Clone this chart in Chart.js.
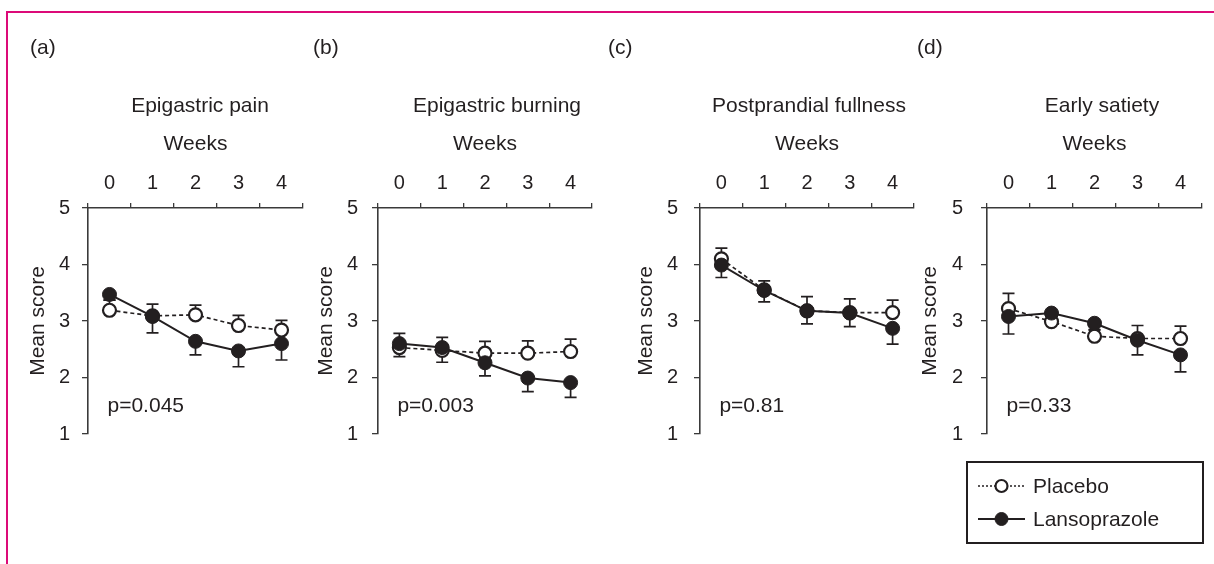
<!DOCTYPE html>
<html><head><meta charset="utf-8">
<script src="https://cdn.jsdelivr.net/npm/chart.js@4"></script>
<style>
html,body{margin:0;padding:0;background:#fff;overflow:hidden;}
#wrap{position:relative;width:1214px;height:564px;overflow:hidden;}
#frame{position:absolute;left:6px;top:11px;width:1230px;height:600px;border-top:2px solid #dc0a78;border-left:2px solid #dc0a78;}
canvas{position:absolute;left:0;top:0;}
</style></head><body>
<div id="wrap"><div id="frame"></div>
<canvas id="c0" width="1214" height="564"></canvas>
<canvas id="c1" width="1214" height="564"></canvas>
<canvas id="c2" width="1214" height="564"></canvas>
<canvas id="c3" width="1214" height="564"></canvas>
</div>
<script>
// ---- data ----
const weeks = ['0', '1', '2', '3', '4'];
const yTickValues = [1, 2, 3, 4, 5];
const seriesNames = ['Placebo', 'Lansoprazole'];
const panelLabels = ['(a)', '(b)', '(c)', '(d)'];
const panelTitles = ['Epigastric pain', 'Epigastric burning', 'Postprandial fullness', 'Early satiety'];
const pTexts = ['p=0.045', 'p=0.003', 'p=0.81', 'p=0.33'];

const placeboA = [3.19, 3.09, 3.11, 2.92, 2.84];
const placeboErrA = [0.18, 0.21, 0.17, 0.18, 0.17];
const lansoA = [3.47, 3.08, 2.64, 2.47, 2.60];
const lansoErrA = [0.10, 0.29, 0.24, 0.28, 0.29];

const placeboB = [2.53, 2.48, 2.43, 2.43, 2.46];
const placeboErrB = [0.25, 0.23, 0.21, 0.22, 0.22];
const lansoB = [2.60, 2.53, 2.26, 1.99, 1.91];
const lansoErrB = [0.23, 0.26, 0.23, 0.24, 0.26];

const placeboC = [4.10, 3.55, 3.18, 3.15, 3.15];
const placeboErrC = [0.19, 0.16, 0.25, 0.24, 0.22];
const lansoC = [3.99, 3.54, 3.18, 3.14, 2.87];
const lansoErrC = [0.22, 0.20, 0.23, 0.24, 0.28];

const placeboD = [3.22, 2.99, 2.73, 2.69, 2.69];
const placeboErrD = [0.27, 0.12, 0.12, 0.23, 0.22];
const lansoD = [3.08, 3.14, 2.96, 2.66, 2.40];
const lansoErrD = [0.31, 0.12, 0.12, 0.26, 0.30];

const placeboAll = [placeboA, placeboB, placeboC, placeboD];
const placeboErrAll = [placeboErrA, placeboErrB, placeboErrC, placeboErrD];
const lansoAll = [lansoA, lansoB, lansoC, lansoD];
const lansoErrAll = [lansoErrA, lansoErrB, lansoErrC, lansoErrD];

// ---- layout / style ----
const INK = '#231f20';
const AXIS = '#3a3a3a';
const FONT = "'Liberation Sans', Arial, Helvetica, sans-serif";
const Y_W = 72;
const PLOT_TOP = 208, PLOT_BOTTOM = 434, X_TOP = 118;
const panels = [
  {plotLeft: 88,  plotRight: 303,  labelX: 30,  titleX: 200,  yLabelGap: 18, yTitleGap: 50},
  {plotLeft: 378, plotRight: 592,  labelX: 313, titleX: 497,  yLabelGap: 20, yTitleGap: 52},
  {plotLeft: 700, plotRight: 914,  labelX: 608, titleX: 809,  yLabelGap: 22, yTitleGap: 54},
  {plotLeft: 987, plotRight: 1202, labelX: 917, titleX: 1102, yLabelGap: 24, yTitleGap: 57}
];

Chart.defaults.font.family = FONT;
Chart.defaults.color = INK;

const errorBars = {
  id: 'errorBars',
  beforeDatasetsDraw(chart) {
    const ctx = chart.ctx, ys = chart.scales.y;
    chart.data.datasets.forEach((ds, i) => {
      if (!ds.errors) return;
      const meta = chart.getDatasetMeta(i);
      ctx.save();
      ctx.strokeStyle = INK; ctx.lineWidth = 1.7; ctx.setLineDash([]);
      meta.data.forEach((pt, j) => {
        const yEnd = ys.getPixelForValue(ds.data[j] + ds.errorSign * ds.errors[j]);
        ctx.beginPath();
        ctx.moveTo(pt.x, pt.y); ctx.lineTo(pt.x, yEnd);
        ctx.moveTo(pt.x - 6, yEnd); ctx.lineTo(pt.x + 6, yEnd);
        ctx.stroke();
      });
      ctx.restore();
    });
  }
};

const panelText = {
  id: 'panelText',
  afterDraw(chart, args, opts) {
    const ctx = chart.ctx;
    ctx.save();
    ctx.fillStyle = INK;
    ctx.font = '21px ' + FONT;
    ctx.textBaseline = 'alphabetic';
    ctx.textAlign = 'left';
    ctx.fillText(opts.label, opts.labelX, 54);
    ctx.textAlign = 'center';
    ctx.fillText(opts.title, opts.titleX, 112);
    ctx.textAlign = 'left';
    ctx.textBaseline = 'middle';
    const xs = chart.scales.x, ys = chart.scales.y;
    ctx.fillText(opts.pText, xs.getPixelForValue(0) - 2, ys.getPixelForValue(1.5));
    ctx.restore();
  }
};

const boxLegend = {
  id: 'boxLegend',
  afterDraw(chart, args, opts) {
    if (!opts.display) return;
    const ctx = chart.ctx;
    ctx.save();
    ctx.strokeStyle = INK; ctx.lineWidth = 2;
    ctx.strokeRect(opts.left, opts.top, opts.width, opts.height);
    chart.data.datasets.forEach((ds, i) => {
      const y = opts.top + opts.firstRow + i * opts.rowGap;
      const x0 = opts.left + 11, x1 = x0 + 47, xm = (x0 + x1) / 2;
      ctx.strokeStyle = ds.borderColor; ctx.lineWidth = ds.borderWidth;
      ctx.setLineDash(ds.borderDash && ds.borderDash.length ? [2, 2] : []);
      ctx.beginPath(); ctx.moveTo(x0, y); ctx.lineTo(x1, y); ctx.stroke();
      ctx.setLineDash([]);
      ctx.beginPath(); ctx.arc(xm, y, ds.pointRadius - 0.5, 0, Math.PI * 2);
      ctx.fillStyle = ds.pointBackgroundColor; ctx.fill();
      ctx.lineWidth = ds.pointBorderWidth; ctx.strokeStyle = ds.pointBorderColor; ctx.stroke();
      ctx.fillStyle = INK; ctx.font = '21px ' + FONT;
      ctx.textAlign = 'left'; ctx.textBaseline = 'middle';
      ctx.fillText(ds.label, x1 + 8, y + 1);
    });
    ctx.restore();
  }
};

panels.forEach((p, k) => {
  new Chart(document.getElementById('c' + k), {
    type: 'line',
    data: {
      labels: weeks,
      datasets: [
        {
          label: seriesNames[0], data: placeboAll[k], errors: placeboErrAll[k], errorSign: 1,
          borderColor: INK, borderWidth: 1.7, borderDash: [4, 3],
          pointRadius: 6.5, pointBorderWidth: 2.2, pointBackgroundColor: '#ffffff', pointBorderColor: INK,
          order: 1, clip: false, tension: 0
        },
        {
          label: seriesNames[1], data: lansoAll[k], errors: lansoErrAll[k], errorSign: -1,
          borderColor: INK, borderWidth: 2, borderDash: [],
          pointRadius: 7, pointBorderWidth: 1, pointBackgroundColor: INK, pointBorderColor: INK,
          order: 0, clip: false, tension: 0
        }
      ]
    },
    options: {
      responsive: false,
      animation: false,
      events: [],
      layout: {padding: {left: p.plotLeft - Y_W, right: 1214 - p.plotRight, top: X_TOP, bottom: 564 - PLOT_BOTTOM}},
      scales: {
        x: {
          type: 'category', position: 'top', offset: true,
          afterFit: s => { s.height = PLOT_TOP - X_TOP; },
          grid: {offset: true, drawOnChartArea: false, drawTicks: true, tickLength: 5, color: AXIS, lineWidth: 1.3},
          border: {color: AXIS, width: 1.6},
          ticks: {font: {size: 20}, color: INK, padding: 8, maxRotation: 0},
          title: {display: true, text: 'Weeks', font: {size: 21}, color: INK, padding: {top: 14, bottom: 0}}
        },
        y: {
          type: 'linear', min: 1, max: 5,
          afterFit: s => { s.width = Y_W; },
          afterBuildTicks: s => { s.ticks = yTickValues.map(v => ({value: v})); },
          grid: {drawOnChartArea: false, drawTicks: true, tickLength: 6, color: AXIS, lineWidth: 1.3},
          border: {color: AXIS, width: 1.6},
          ticks: {font: {size: 20}, color: INK, padding: p.yLabelGap - 6},
          title: {display: true, text: 'Mean score', font: {size: 21}, color: INK,
                  padding: {top: Y_W - p.yTitleGap - 12.6, bottom: 0}}
        }
      },
      plugins: {
        legend: {display: false},
        tooltip: {enabled: false},
        title: {display: false},
        panelText: {label: panelLabels[k], labelX: p.labelX, title: panelTitles[k], titleX: p.titleX, pText: pTexts[k]},
        boxLegend: {display: k === 3, left: 967, top: 462, width: 236, height: 81, firstRow: 24, rowGap: 33}
      }
    },
    plugins: [errorBars, panelText, boxLegend]
  });
});
</script>
</body></html>
